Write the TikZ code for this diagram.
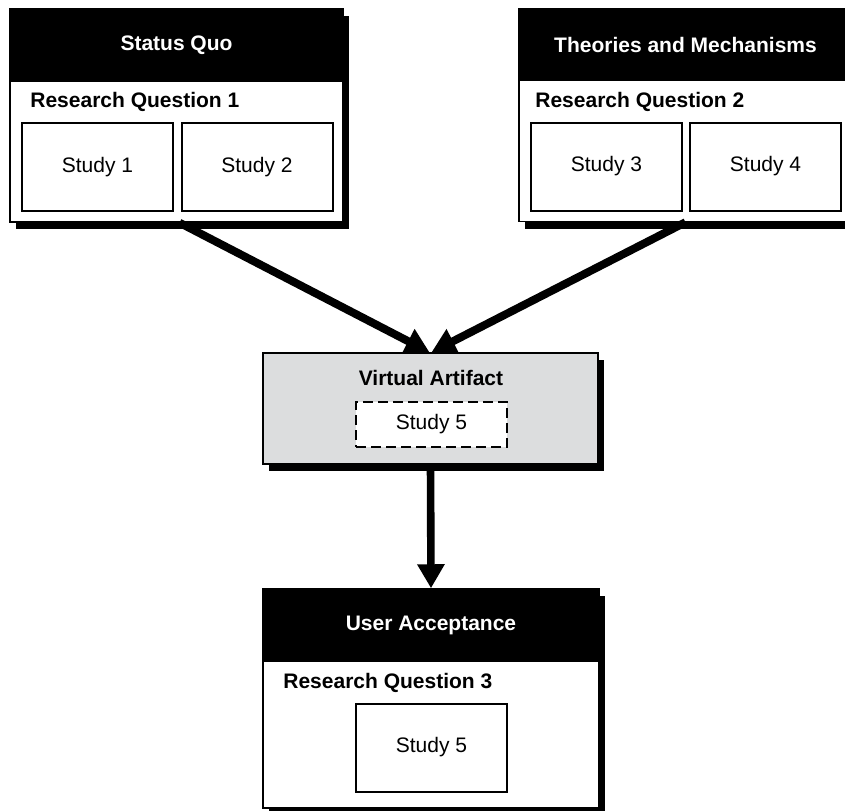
\documentclass[tikz,border=0pt]{standalone}
\usepackage{fontspec}
\setmainfont{Liberation Sans}[Scale=1.05]
\usetikzlibrary{shadows,arrows.meta}
\definecolor{grisclair}{RGB}{220,221,222}

\begin{document}
\begin{tikzpicture}[x=0.5pt,y=-0.5pt]
\tikzset{panneau/.style={draw, fill=white, line width=0.75pt, inner sep=0pt, minimum width=166.5pt, minimum height=106.5pt, drop shadow={shadow xshift=3pt, shadow yshift=-3.5pt, fill=black, opacity=1}},
  bandeau/.style={fill=black, text=white, font=\bfseries, inner sep=0pt, minimum width=167.5pt, minimum height=36.5pt, anchor=north},
  question/.style={font=\bfseries, anchor=west, inner sep=0pt},
  etude/.style={draw, fill=white, line width=1pt, inner sep=0pt, minimum width=75.5pt, minimum height=44pt},
  fleche/.style={line width=4pt, -{Triangle[width=13pt, length=12pt]}}}
\clip (0, 0) rectangle (845, 810);
\useasboundingbox (0, 0) rectangle (845, 810);
\node[panneau] (P1) at (176.5, 115.5) {};
\node[bandeau] (T1) at (P1.north) {Status Quo};
\node[question] (Q1) at (30, 102) {Research Question 1};
\node[etude] (E1) at (97.5, 167) {Study 1};
\node[etude] (E2) at (257, 167) {Study 2};
\node[panneau] (P2) at (685.5, 115) {};
\node[bandeau] (T2) at (P2.north) {Theories and Mechanisms};
\node[question] (Q2) at (535, 102) {Research Question 2};
\node[etude] (E3) at (606.5, 166.5) {Study 3};
\node[etude] (E4) at (765.5, 166.5) {Study 4};
\node[panneau, fill=grisclair, minimum width=167.5pt, minimum height=55.5pt] (VA) at (430.5, 408.5) {};
\node[font=\bfseries, inner sep=0pt] (TV) at (431, 378) {Virtual Artifact};
\node[etude, dashed, line width=1.3pt, dash pattern=on 5pt off 2.5pt, minimum height=22.5pt] (E5) at (431.5, 424.5) {Study 5};
\node[panneau, minimum width=168pt, minimum height=109.5pt] (P3) at (431, 698.5) {};
\node[bandeau, minimum width=169pt] (T3) at (P3.north) {User Acceptance};
\node[question] (Q3) at (283, 683) {Research Question 3};
\node[etude] (E6) at (431.5, 747.5) {Study 5};
\draw[fleche] ([xshift=1.5pt]P1.south) -- ([xshift=-0.5pt]VA.north);
\draw[fleche] (P2.south) -- ([xshift=0.5pt]VA.north);
\draw[fleche, line width=3.8pt] (VA.south) -- (T3.north);
\end{tikzpicture}
\end{document}
